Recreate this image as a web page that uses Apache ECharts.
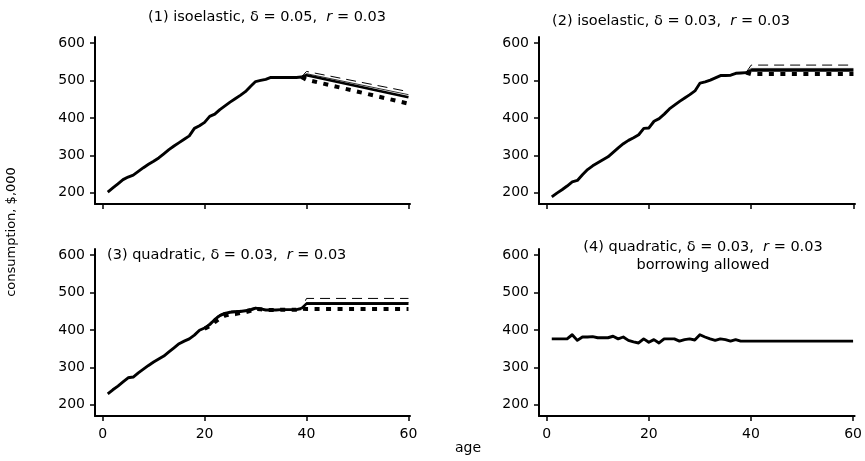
<!DOCTYPE html>
<html><head><meta charset="utf-8">
<script src="https://cdn.jsdelivr.net/npm/echarts@6/dist/echarts.min.js"></script>
<style>html,body{margin:0;padding:0;background:#fff}#c{width:865px;height:461px}</style>
</head><body><div id="c"></div>
<script>
// ---- tick labels ----
const yTicks = [200, 300, 400, 500, 600];
const xTicks = [0, 20, 40, 60];

// ---- panel 1: isoelastic, delta 0.05 ----
const p1Age = [1,2,3,4,5,6,7,8,9,10,11,12,13,14,15,16,17,18,19,20,21,22,23,24,25,26,27,28,29,30,31,32,33,34,35,36,37,38,39];
const p1Main = [202,213,224,235,242,247,257,267,276,284,293,304,315,325,334,343,352,372,379,388,404,410,422,432,442,451,460,470,484,497,500,503,508,508,508,508,508,508,509];
const p1TailAge = [39, 40, 60];
const p1Dash = [509, 524, 470];
const p1Thin = [509, 518, 462];
const p1Thick = [509, 514, 455];
const p1Heavy = [509, 502, 438];

// ---- panel 2: isoelastic, delta 0.03 ----
const p2Age = [1,2,3,4,5,6,7,8,9,10,11,12,13,14,15,16,17,18,19,20,21,22,23,24,25,26,27,28,29,30,31,32,33,34,35,36,37,38,39];
const p2Main = [189,199,208,218,229,233,248,262,272,280,288,296,308,320,331,340,347,355,372,373,391,398,410,424,434,444,453,462,472,493,496,501,507,513,513,514,519,520,521];
const p2TailAge = [39, 40, 60];
const p2Dash = [521, 541, 541];
const p2Thin = [521, 532, 532];
const p2Thick = [521, 527, 527];
const p2Heavy = [521, 517, 517];

// ---- panel 3: quadratic ----
const p3Age = [1,2,3,4,5,6,7,8,9,10,11,12,13,14,15,16,17,18,19,20,21,22,23,24,25,26,27,28,29,30,31,32,33,34,35,36,37,38,39];
const p3Main = [229,240,250,261,272,274,285,295,305,314,322,330,341,352,363,370,376,386,399,405,414,428,438,444,447,448,449,451,453,458,456,453,453,453,454,454,454,454,457];
const p3SideAge = [20,21,22,23,24,25,26,27,28,29,30,31,32,33,34,35,36,37,38,39,40,60];
const p3Heavy = [403,410,421,431,438,441,442,445,447,451,456,455,453,453,453,454,454,454,454,457,456,456];
const p3Dash = [406,418,432,441,447,450,451,452,454,457,460,457,453,453,453,454,454,454,454,457,484,484];
const p3TailAge = [39, 40, 60];
const p3Thin = [457, 473, 473];
const p3Thick = [457, 470, 470];

// ---- panel 4: quadratic, borrowing allowed ----
const p4Age = [1,2,3,4,5,6,7,8,9,10,11,12,13,14,15,16,17,18,19,20,21,22,23,24,25,26,27,28,29,30,31,32,33,34,35,36,37,38,60];
const p4Main = [376,376,376,376,387,372,381,381,382,379,379,379,383,376,381,372,368,365,376,367,374,365,376,376,376,370,374,376,373,387,381,376,372,376,374,370,374,370,370];

const FONT = 'DejaVu Sans';
const grids = [
  {left: 95, top: 37, width: 315, height: 167},
  {left: 539, top: 37, width: 316, height: 167},
  {left: 95, top: 249, width: 315, height: 167},
  {left: 539, top: 249, width: 316, height: 167}
];
function xAx(i, labels) {
  return {
    type: 'value', gridIndex: i, min: -1.5, max: 60.3,
    splitLine: {show: false},
    axisLine: {show: true, onZero: false, lineStyle: {color: '#000', width: 2}},
    axisTick: {show: true, customValues: xTicks, length: 5, lineStyle: {color: '#000', width: 1.5}},
    axisLabel: {show: labels, customValues: xTicks, color: '#000', fontFamily: FONT, fontSize: 14, margin: 11}
  };
}
function yAx(i) {
  return {
    type: 'value', gridIndex: i, min: 170, max: 616,
    splitLine: {show: false},
    axisLine: {show: true, onZero: false, lineStyle: {color: '#000', width: 2}},
    axisTick: {show: true, customValues: yTicks, length: 5, lineStyle: {color: '#000', width: 1.5}},
    axisLabel: {show: true, customValues: yTicks, color: '#000', fontFamily: FONT, fontSize: 14, margin: 10}
  };
}
function zip(a, b) { return a.map((x, k) => [x, b[k]]); }
const STY = {
  main:  {color: '#000', width: 2.9, type: 'solid'},
  thick: {color: '#000', width: 2.6, type: 'solid'},
  thin:  {color: '#333', width: 1, type: 'solid'},
  dash:  {color: '#000', width: 1, type: [10, 6]},
  heavy: {color: '#000', width: 4, type: [5, 6.5]}
};
function line(i, ages, vals, st, z) {
  return {
    type: 'line', xAxisIndex: i, yAxisIndex: i, data: zip(ages, vals),
    showSymbol: false, symbol: 'none', silent: true, z: z || 2,
    lineStyle: Object.assign({cap: 'butt', join: 'round'}, STY[st])
  };
}
const series = [
  line(0, p1TailAge, p1Dash, 'dash', 2),
  line(0, p1TailAge, p1Thin, 'thin', 2),
  line(0, p1TailAge, p1Heavy, 'heavy', 3),
  line(0, p1TailAge, p1Thick, 'thick', 4),
  line(0, p1Age, p1Main, 'main', 5),
  line(1, p2TailAge, p2Dash, 'dash', 2),
  line(1, p2TailAge, p2Thin, 'thin', 2),
  line(1, p2TailAge, p2Heavy, 'heavy', 3),
  line(1, p2TailAge, p2Thick, 'thick', 4),
  line(1, p2Age, p2Main, 'main', 5),
  line(2, p3SideAge, p3Dash, 'dash', 2),
  line(2, p3TailAge, p3Thin, 'thin', 2),
  line(2, p3SideAge, p3Heavy, 'heavy', 3),
  line(2, p3TailAge, p3Thick, 'thick', 4),
  line(2, p3Age, p3Main, 'main', 5),
  line(3, p4Age, p4Main, 'main', 5)
];
const rich = {
  a: {fontFamily: FONT, fontSize: 14.5, fontWeight: 'normal', color: '#000', lineHeight: 18},
  i: {fontFamily: FONT, fontSize: 14.5, fontWeight: 'normal', color: '#000', fontStyle: 'italic', lineHeight: 18}
};
const tStyle = {rich: rich, fontWeight: 'normal', fontFamily: FONT, fontSize: 14.5};
const titles = [
  {text: '{a|(1) isoelastic, δ = 0.05,  }{i|r}{a| = 0.03}', left: 267, top: 8, textAlign: 'center', padding: 0, textStyle: tStyle},
  {text: '{a|(2) isoelastic, δ = 0.03,  }{i|r}{a| = 0.03}', left: 671, top: 12, textAlign: 'center', padding: 0, textStyle: tStyle},
  {text: '{a|(3) quadratic, δ = 0.03,  }{i|r}{a| = 0.03}', left: 107, top: 246, textAlign: 'left', padding: 0, textStyle: tStyle},
  {text: '{a|(4) quadratic, δ = 0.03,  }{i|r}{a| = 0.03}\n{a|borrowing allowed}', left: 703, top: 238, textAlign: 'center', padding: 0, textStyle: Object.assign({align: 'center'}, tStyle)}
];
const chart = echarts.init(document.getElementById('c'), null, {renderer: 'canvas'});
chart.setOption({
  animation: false,
  backgroundColor: '#fff',
  title: titles,
  grid: grids,
  xAxis: [xAx(0, false), xAx(1, false), xAx(2, true), xAx(3, true)],
  yAxis: [yAx(0), yAx(1), yAx(2), yAx(3)],
  series: series,
  graphic: [
    {type: 'text', x: 12, y: 232, rotation: Math.PI / 2,
     style: {text: 'consumption, $,000', font: '13px "DejaVu Sans"', fill: '#000', align: 'center', verticalAlign: 'middle', textAlign: 'center', textVerticalAlign: 'middle'}},
    {type: 'text', x: 468, y: 448,
     style: {text: 'age', font: '14px "DejaVu Sans"', fill: '#000', align: 'center', verticalAlign: 'middle', textAlign: 'center', textVerticalAlign: 'middle'}}
  ]
});
</script>
</body></html>
